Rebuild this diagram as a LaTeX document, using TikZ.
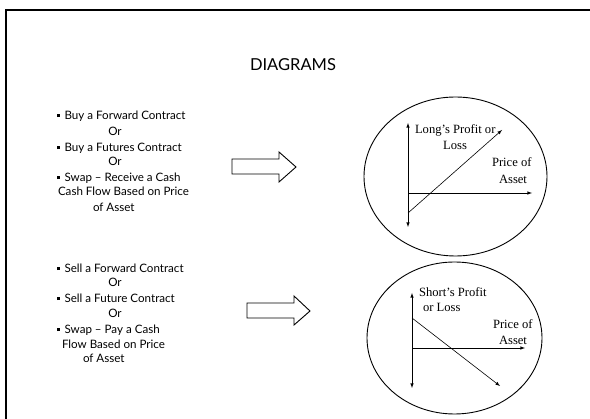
\documentclass[tikz,border=0pt]{standalone}
\usepackage{fontspec}
\setmainfont{Liberation Serif}
\newfontfamily\slidefont{Lato}
\usetikzlibrary{positioning}
\tikzstyle{every node}=[inner sep=0, outer sep=0]
\tikzstyle{item}=[font=\slidefont\fontsize{11.6}{13}\selectfont, anchor=mid west]
\tikzstyle{orword}=[font=\slidefont\fontsize{11.6}{13}\selectfont, anchor=mid]
\tikzstyle{axislabel}=[font=\fontsize{12.6}{14}\selectfont, anchor=mid west]
\tikzstyle{axis}=[line width=0.6pt, >=latex]
\tikzstyle{blockarrow}=[line width=0.9pt, line join=miter, fill=white]
\newcommand{\sqbullet}{\rule[2.2pt]{2.6pt}{2.6pt}\hspace{5pt}}

\begin{document}
\begin{tikzpicture}[x=1pt, y=-1pt]
    \useasboundingbox (0, 0) rectangle (590, 419);
    \fill[white] (0, 0) rectangle (590, 419);
    % slide frame, cut by the page
    \draw[line width=2.5pt] (6, 10) rectangle (620, 440);
    \node[font=\slidefont\fontsize{16.5}{18}\selectfont] (title) at (293, 65) {DIAGRAMS};

    % long position
    \node[item] (buyfwd) at (57, 117) {\sqbullet Buy a Forward Contract};
    \node[orword] (or1) at (115, 133) {Or};
    \node[item] (buyfut) at (57, 149) {\sqbullet Buy a Futures Contract};
    \node[orword] (or2) at (115, 163) {Or};
    \node[item] (recv) at (57, 179) {\sqbullet Swap – Receive a Cash};
    \node[item] (recv2) at (58, 193) {Cash Flow Based on Price};
    \node[item] (recv3) at (93, 209) {of Asset};
    \draw[blockarrow] (232, 159) -- (279, 159) -- (279, 152) -- (296, 167)
        -- (279, 182) -- (279, 174) -- (232, 174) -- cycle;
    \draw[line width=0.9pt] (455.5, 176.5) ellipse [x radius=91.5, y radius=79.5];
    \coordinate (lo) at (408, 193);
    \coordinate (lup) at (408, 123);
    \coordinate (ldn) at (408, 227);
    \coordinate (lx) at (532, 193);
    \coordinate (lfrom) at (408, 213);
    \coordinate (lto) at (502, 130);
    \draw[axis, <->] (ldn) -- (lup);
    \draw[axis, ->] (lo) -- (lx);
    \draw[axis, ->] (lfrom) -- (lto);
    \node[axislabel] (longpl) at (415, 131) {Long’s Profit or};
    \node[axislabel, anchor=mid] (longloss) at (455, 147) {Loss};
    \node[axislabel] (lprice) at (492, 164) {Price of};
    \node[axislabel, anchor=mid] (lasset) at (513, 181) {Asset};

    % short position
    \node[item] (sellfwd) at (57, 270) {\sqbullet Sell a Forward Contract};
    \node[orword] (or3) at (115, 284) {Or};
    \node[item] (sellfut) at (57, 300) {\sqbullet Sell a Future Contract};
    \node[orword] (or4) at (115, 315) {Or};
    \node[item] (pay) at (57, 331) {\sqbullet Swap – Pay a Cash};
    \node[item] (pay2) at (62, 346) {Flow Based on Price};
    \node[item] (pay3) at (83, 360) {of Asset};
    \draw[blockarrow] (247, 303) -- (294, 303) -- (294, 296) -- (310, 311)
        -- (294, 325) -- (294, 318) -- (247, 318) -- cycle;
    \draw[line width=0.9pt] (454.5, 338) ellipse [x radius=87.5, y radius=76];
    \coordinate (so) at (412, 348);
    \coordinate (sup) at (412, 293);
    \coordinate (sdn) at (412, 388);
    \coordinate (sx) at (525, 348);
    \coordinate (sfrom) at (412, 318);
    \coordinate (sto) at (500, 386);
    \draw[axis, <->] (sdn) -- (sup);
    \draw[axis, ->] (so) -- (sx);
    \draw[axis, ->] (sfrom) -- (sto);
    \node[axislabel] (shortpl) at (419, 294) {Short’s Profit};
    \node[axislabel] (shortloss) at (423, 309) {or Loss};
    \node[axislabel] (sprice) at (493, 326) {Price of};
    \node[axislabel, anchor=mid] (sasset) at (513, 342) {Asset};
\end{tikzpicture}
\end{document}
